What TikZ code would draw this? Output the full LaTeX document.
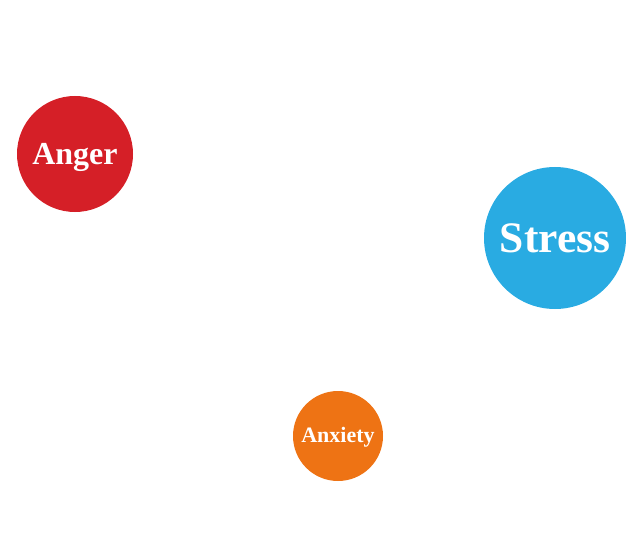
\documentclass[tikz,border=0pt]{standalone}
\usepackage{fontspec}
\setmainfont{Liberation Serif}
\definecolor{angerred}{HTML}{D51F27}
\definecolor{stressblue}{HTML}{29ABE2}
\definecolor{anxorange}{HTML}{EE7314}
\begin{document}
\begin{tikzpicture}[x=1pt,y=-1pt,
  bubble/.style={circle,inner sep=0pt},
  bubbletext/.style={text=white,inner sep=0pt}]
\useasboundingbox (0,0) rectangle (626,540);
\node[bubble,fill=angerred,minimum size=116pt] (anger) at (75,154) {};
\node[bubbletext,font=\bfseries\fontsize{32}{32}\selectfont] (angerlabel) at (75,157) {Anger};
\node[bubble,fill=stressblue,minimum size=142pt] (stress) at (555,238) {};
\node[bubbletext,font=\bfseries\fontsize{43.5}{43.5}\selectfont] (stresslabel) at (555,238) {Stress};
\node[bubble,fill=anxorange,minimum size=90pt] (anxiety) at (338,436) {};
\node[bubbletext,font=\bfseries\fontsize{22}{22}\selectfont] (anxietylabel) at (338,437) {Anxiety};
\end{tikzpicture}
\end{document}
